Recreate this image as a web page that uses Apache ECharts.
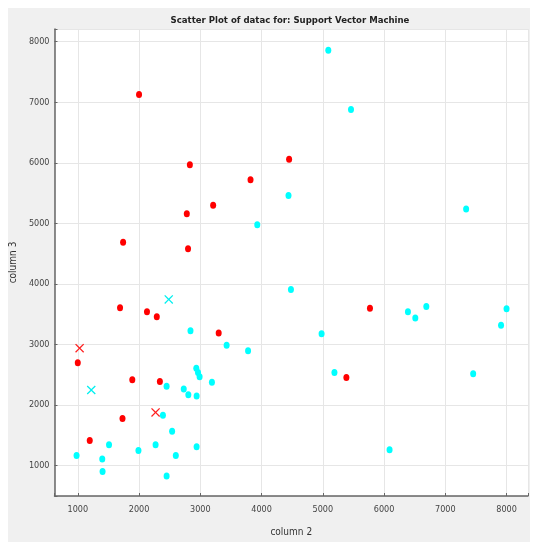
<!DOCTYPE html>
<html><head><meta charset="utf-8">
<script src="https://cdn.jsdelivr.net/npm/echarts@6/dist/echarts.min.js"></script>
<style>
html,body{margin:0;padding:0;background:#fff;}
#wrap{position:relative;width:535px;height:542px;background:#fff;}
#panel{position:absolute;left:8px;top:8px;width:522px;height:534px;background:#f0f0f0;}
#chart{position:absolute;left:0;top:0;width:535px;height:542px;}
</style></head>
<body>
<div id="wrap"><div id="panel"></div><div id="chart"></div></div>
<script>
var titleText = 'Scatter Plot of datac for: Support Vector Machine';
var xName = 'column 2';
var yName = 'column 3';

var redX = [2000,2830,3820,4450,3210,2780,1740,2800,1690,2130,2290,3300,1000,1890,2340,1730,1195,5770,5385];
var redY = [7130,5970,5720,6060,5300,5160,4690,4580,3610,3540,3460,3190,2700,2420,2390,1780,1415,3600,2455];

var cyanX = [4440,3930,5090,5460,7340,4480,2840,3430,3780,2935,2963,2989,2450,3190,2730,2805,2940,2390,2540,1510,2270,2940,1990,980,2600,1400,1405,2450,6390,6510,6690,8000,7910,4980,5190,7455,6090];
var cyanY = [5460,4980,7860,6880,5240,3910,3230,2990,2900,2610,2540,2470,2310,2380,2265,2170,2150,1835,1570,1345,1345,1315,1250,1170,1170,1110,905,830,3540,3440,3630,3590,3320,3180,2540,2520,1265];

var svRedX = [1030,2270];
var svRedY = [2940,1880];
var svCyanX = [2485,1220];
var svCyanY = [3745,2250];

function zip(a,b){return a.map(function(v,i){return [v,b[i]];});}

var xPath = 'path://M0,1L1,0L5,4L9,0L10,1L6,5L10,9L9,10L5,6L1,10L0,9L4,5Z';
var font = "'DejaVu Sans Condensed', 'Liberation Sans', Arial, sans-serif";

var chart = echarts.init(document.getElementById('chart'), null, {renderer:'canvas'});
chart.setOption({
  backgroundColor: 'transparent',
  animation: false,
  title: {
    text: titleText, left: 285, top: 11, textAlign: 'center',
    textStyle: {fontFamily: font, fontSize: 9.5, fontWeight: 'bold', color: '#222'}
  },
  grid: {left: 53, top: 29, right: 7, bottom: 40, show: true, backgroundColor: '#fff', borderWidth: 0},
  xAxis: {
    type: 'value', min: 620, max: 8350, splitNumber: 8,
    name: xName, nameLocation: 'middle', nameGap: 31,
    nameTextStyle: {fontFamily: font, fontSize: 10, color: '#333'},
    axisLine: {show: true, onZero: false, lineStyle: {color: '#666', width: 1.5}},
    axisTick: {show: true, inside: true, length: 3, lineStyle: {color: '#666'}},
    axisLabel: {fontFamily: font, fontSize: 9, color: '#444', margin: 9,
      formatter: function(v){return v % 1000 === 0 ? String(v) : '';}},
    splitLine: {show: true, lineStyle: {color: '#e6e6e6'}}
  },
  yAxis: {
    type: 'value', min: 500, max: 8210, splitNumber: 8,
    name: yName, nameLocation: 'middle', nameGap: 22,
    nameTextStyle: {fontFamily: font, fontSize: 10, color: '#333'},
    axisLine: {show: true, onZero: false, lineStyle: {color: '#666', width: 1.5}},
    axisTick: {show: true, inside: true, length: 3, lineStyle: {color: '#666'}},
    axisLabel: {fontFamily: font, fontSize: 9, color: '#444', margin: 5,
      formatter: function(v){return v % 1000 === 0 ? String(v) : '';}},
    splitLine: {show: true, lineStyle: {color: '#e6e6e6'}}
  },
  series: [
    {type: 'scatter', data: zip(cyanX, cyanY), symbol: 'circle', symbolSize: [6,7],
     itemStyle: {color: '#00ffff', opacity: 1}},
    {type: 'scatter', data: zip(redX, redY), symbol: 'circle', symbolSize: [6,7],
     itemStyle: {color: '#ff0000', opacity: 1}},
    {type: 'scatter', data: zip(svRedX, svRedY), symbol: xPath, symbolSize: 9,
     itemStyle: {color: '#ff2020', opacity: 1}},
    {type: 'scatter', data: zip(svCyanX, svCyanY), symbol: xPath, symbolSize: 9,
     itemStyle: {color: '#00f0f0', opacity: 1}}
  ]
});
</script>
</body></html>
